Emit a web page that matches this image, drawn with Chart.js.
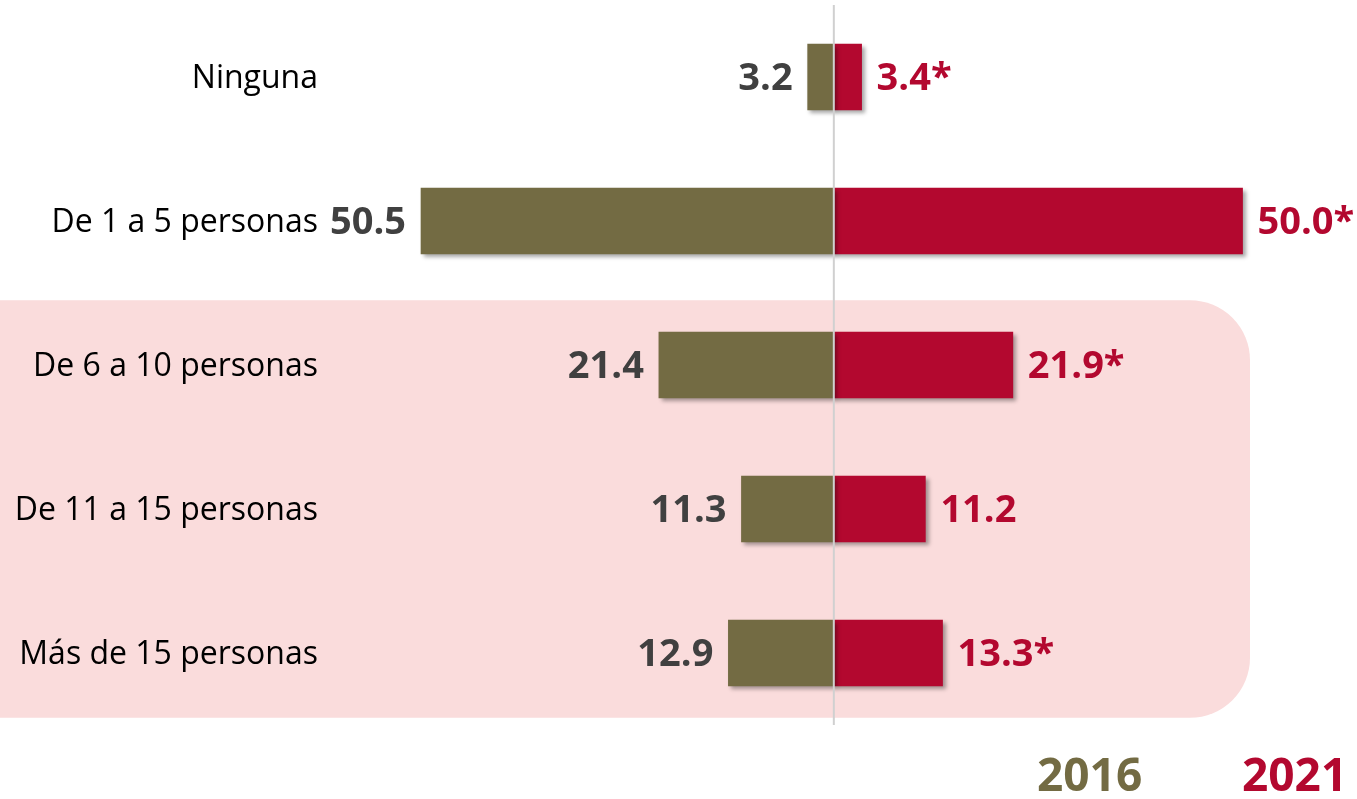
<!DOCTYPE html>
<html>
<head>
<meta charset="utf-8">
<script src="https://cdn.jsdelivr.net/npm/chart.js@4"></script>
<style>
  html, body { margin: 0; padding: 0; background: #fff; }
  #wrap { width: 1357px; height: 799px; position: relative; }
</style>
</head>
<body>
<div id="wrap"><canvas id="chart"></canvas></div>
<script>
const categories = ['Ninguna', 'De 1 a 5 personas', 'De 6 a 10 personas', 'De 11 a 15 personas', 'Más de 15 personas'];
const values2016 = [3.2, 50.5, 21.4, 11.3, 12.9];
const values2021 = [3.4, 50.0, 21.9, 11.2, 13.3];
const significant2021 = [true, true, true, false, true];
const seriesNames = ['2016', '2021'];

const OLIVE = '#736b43';
const RED = '#b3082f';
const FONT = "'Open Sans', 'Noto Sans', sans-serif";

const backdrop = {
  id: 'backdrop',
  beforeDatasetsDraw(chart) {
    const ctx = chart.ctx;
    const y = chart.scales.y;
    const step = y.getPixelForValue(3) - y.getPixelForValue(2);
    const top = y.getPixelForValue(2) - step * 0.45;
    const bottom = y.getPixelForValue(4) + step * 0.45;
    ctx.save();
    ctx.fillStyle = '#fadcdc';
    ctx.beginPath();
    ctx.roundRect(-80, top, 1330, bottom - top, 60);
    ctx.fill();
    ctx.restore();
  },
  beforeDatasetDraw(chart) {
    const ctx = chart.ctx;
    ctx.save();
    ctx.shadowColor = 'rgba(0,0,0,0.35)';
    ctx.shadowBlur = 4;
    ctx.shadowOffsetX = 3;
    ctx.shadowOffsetY = 3;
  },
  afterDatasetDraw(chart) {
    chart.ctx.restore();
  },
  afterDatasetsDraw(chart) {
    const ctx = chart.ctx;
    const x = chart.scales.x;
    const y = chart.scales.y;
    const x0 = x.getPixelForValue(0);

    ctx.save();
    ctx.strokeStyle = '#d0d0d0';
    ctx.lineWidth = 2;
    ctx.beginPath();
    ctx.moveTo(x0, chart.chartArea.top);
    ctx.lineTo(x0, chart.chartArea.bottom);
    ctx.stroke();

    ctx.textBaseline = 'middle';
    const left = chart.getDatasetMeta(0).data;
    const right = chart.getDatasetMeta(1).data;
    categories.forEach((c, i) => {
      const cy = y.getPixelForValue(i);
      ctx.font = '32px ' + FONT;
      ctx.fillStyle = '#000';
      ctx.textAlign = 'right';
      ctx.fillText(c, 318, cy + 2);

      ctx.font = 'bold 38px ' + FONT;
      ctx.fillStyle = '#404040';
      ctx.textAlign = 'right';
      ctx.fillText(values2016[i].toFixed(1), left[i].x - 15, cy + 2);

      ctx.fillStyle = RED;
      ctx.textAlign = 'left';
      ctx.fillText(values2021[i].toFixed(1) + (significant2021[i] ? '*' : ''), right[i].x + 15, cy + 2);
    });

    ctx.font = 'bold 46px ' + FONT;
    ctx.textAlign = 'left';
    ctx.fillStyle = OLIVE;
    ctx.fillText(seriesNames[0], 1037, 778);
    ctx.fillStyle = RED;
    ctx.fillText(seriesNames[1], 1242, 778);
    ctx.restore();
  }
};

new Chart(document.getElementById('chart'), {
  type: 'bar',
  data: {
    labels: categories,
    datasets: [
      { label: seriesNames[0], data: values2016.map(v => -v), backgroundColor: OLIVE },
      { label: seriesNames[1], data: values2021, backgroundColor: RED }
    ]
  },
  options: {
    indexAxis: 'y',
    responsive: true,
    maintainAspectRatio: false,
    animation: false,
    layout: { padding: { top: 5, bottom: 74, left: 0, right: 0 } },
    datasets: { bar: { barThickness: 66, borderSkipped: false } },
    scales: {
      x: { display: false, stacked: true, min: -102, max: 64 },
      y: { display: false, stacked: true }
    },
    plugins: {
      legend: { display: false },
      tooltip: { enabled: false }
    }
  },
  plugins: [backdrop]
});
</script>
</body>
</html>
